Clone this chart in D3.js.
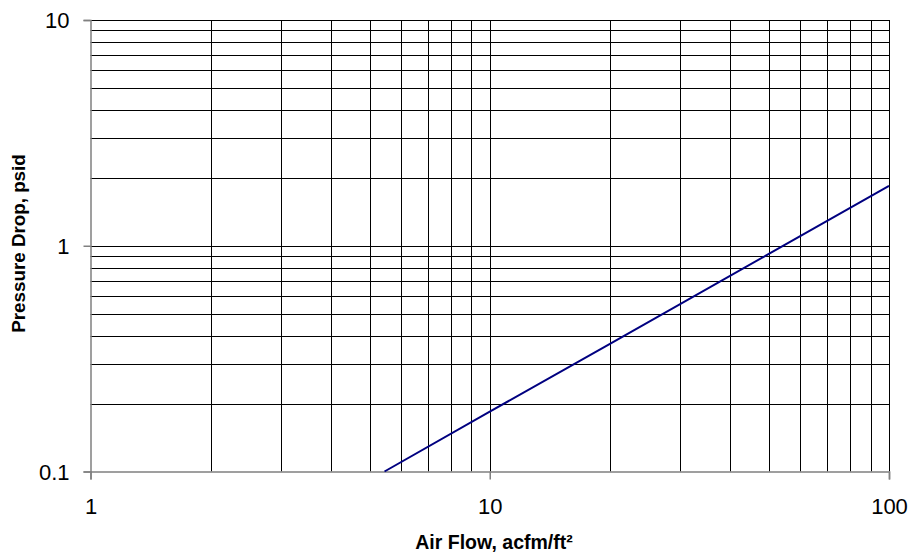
<!DOCTYPE html>
<html>
<head>
<meta charset="utf-8">
<script src="https://cdn.jsdelivr.net/npm/d3@7"></script>
<style>
body { margin: 0; background: #fff; }
text { font-family: "Liberation Sans", Arial, sans-serif; }
</style>
</head>
<body>
<svg id="chart" width="909" height="556"></svg>
<script>
// data
var flow = [5.45, 10, 20, 50, 100];          // acfm/ft²
var drop = [0.1, 0.184, 0.368, 0.92, 1.84];  // psid
var xTicks = [1, 10, 100];
var yTicks = [0.1, 1, 10];
var xTickLabels = ["1", "10", "100"];
var yTickLabels = ["0.1", "1", "10"];

var svg = d3.select("#chart");
var pLeft = 90.5, pRight = 889, pTop = 20, pBottom = 471.5;

var x = d3.scaleLog().domain([1, 100]).range([pLeft, pRight]);
var y = d3.scaleLog().domain([0.1, 10]).range([pBottom, pTop]);

// minor grid values 1..100 / 0.1..10
function decadeVals(lo, hi) {
    var out = [];
    for (var d = lo; d < hi; d *= 10)
        for (var k = 1; k <= 10; k++) out.push(+(d * k).toPrecision(3));
    return Array.from(new Set(out));
}
var gx = decadeVals(1, 100).filter(function (v) { return v > 1; });
var gy = decadeVals(0.1, 10).filter(function (v) { return v > 0.1; });

var grid = svg.append("g");
grid.selectAll("line.v").data(gx).enter().append("line")
    .attr("x1", function (d) { return Math.round(x(d)) + 0.5; })
    .attr("x2", function (d) { return Math.round(x(d)) + 0.5; })
    .attr("y1", pTop).attr("y2", pBottom)
    .attr("stroke", "#000").attr("stroke-width", 1);
grid.selectAll("line.h").data(gy).enter().append("line")
    .attr("y1", function (d) { return Math.round(y(d)) + 0.5; })
    .attr("y2", function (d) { return Math.round(y(d)) + 0.5; })
    .attr("x1", pLeft).attr("x2", pRight)
    .attr("stroke", "#000").attr("stroke-width", 1);

// axes
var xAxis = d3.axisBottom(x).tickValues(xTicks).tickSize(8).tickPadding(19)
    .tickFormat(function (d, i) { return xTickLabels[i]; });
var yAxis = d3.axisLeft(y).tickValues(yTicks).tickSize(7).tickPadding(14)
    .tickFormat(function (d, i) { return yTickLabels[i]; });

var gX = svg.append("g").attr("transform", "translate(0," + pBottom + ")").call(xAxis);
var gY = svg.append("g").attr("transform", "translate(" + pLeft + ",0)").call(yAxis);
[gX, gY].forEach(function (g) {
    g.select(".domain").attr("stroke", "#808080").attr("stroke-width", 1.5);
    g.selectAll(".tick line").attr("stroke", "#808080").attr("stroke-width", 1.5);
    g.selectAll(".tick text").attr("font-size", 22).attr("fill", "#000")
        .style("font-family", "'Liberation Sans', Arial, sans-serif");
});
gY.selectAll(".tick text").attr("dy", "0.36em");

// the series
var line = d3.line()
    .x(function (d, i) { return x(flow[i]); })
    .y(function (d, i) { return y(drop[i]); });
svg.append("path").datum(flow)
    .attr("d", line)
    .attr("fill", "none")
    .attr("stroke", "#000080")
    .attr("stroke-width", 2);

// titles
svg.append("text")
    .attr("x", 494).attr("y", 549)
    .attr("text-anchor", "middle")
    .attr("font-size", 19.5).attr("font-weight", "bold")
    .text("Air Flow, acfm/ft²");
svg.append("text")
    .attr("transform", "translate(24.5,243.5) rotate(-90)")
    .attr("text-anchor", "middle")
    .attr("font-size", 18.8).attr("font-weight", "bold")
    .text("Pressure Drop, psid");
</script>
</body>
</html>
